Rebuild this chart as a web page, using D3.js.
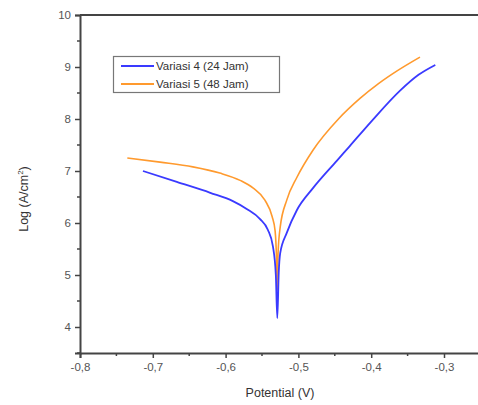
<!DOCTYPE html>
<html>
<head>
<meta charset="utf-8">
<script src="https://cdn.jsdelivr.net/npm/d3@7"></script>
<style>
  body { margin: 0; background: #fff; }
  text { font-family: "Liberation Sans", Arial, sans-serif; }
</style>
</head>
<body>
<svg id="chart" width="478" height="405"></svg>
<script>
// Variasi 4 (24 Jam): [potential V, log current]
var variasi4 = [
  [-0.7135, 7.0], [-0.667, 6.79], [-0.621, 6.58], [-0.590, 6.42],
  [-0.571, 6.27], [-0.553, 6.08], [-0.542, 5.87], [-0.535, 5.55],
  [-0.531, 5.0], [-0.529, 4.17], [-0.527, 5.05], [-0.525, 5.42],
  [-0.516, 5.81], [-0.502, 6.25], [-0.480, 6.67], [-0.447, 7.2],
  [-0.430, 7.47], [-0.400, 7.95], [-0.360, 8.55], [-0.335, 8.85],
  [-0.312, 9.04]
];
// Variasi 5 (48 Jam)
var variasi5 = [
  [-0.735, 7.25], [-0.690, 7.17], [-0.645, 7.08], [-0.608, 6.96],
  [-0.580, 6.82], [-0.562, 6.67], [-0.546, 6.44], [-0.536, 6.12],
  [-0.532, 5.85], [-0.530, 5.3], [-0.529, 4.71], [-0.528, 5.4],
  [-0.525, 5.92], [-0.516, 6.44], [-0.502, 6.88], [-0.480, 7.40],
  [-0.445, 8.0], [-0.415, 8.4], [-0.390, 8.68], [-0.365, 8.92],
  [-0.333, 9.19]
];
var seriesNames = ["Variasi 4 (24 Jam)", "Variasi 5 (48 Jam)"];
var seriesColors = ["#3a3aff", "#ff9a2e"];
var xTicks = [-0.8, -0.7, -0.6, -0.5, -0.4, -0.3];
var yTicks = [4, 5, 6, 7, 8, 9, 10];

var svg = d3.select("#chart");
var axisColor = "#444";

var x = d3.scaleLinear().domain([-0.8, -0.2]).range([80, 80 + 0.6 * 728]);
var y = d3.scaleLinear().domain([3.5, 10]).range([353, 15]);

var fmt = function(v) { return d3.format(".1f")(v).replace(".", ",").replace("−", "-"); };

// minor ticks
svg.append("g").selectAll("line")
  .data(d3.range(-0.75, -0.25, 0.1))
  .enter().append("line")
  .attr("x1", d => x(d)).attr("x2", d => x(d))
  .attr("y1", 353).attr("y2", 356)
  .attr("stroke", axisColor).attr("stroke-width", 1.5);
svg.append("g").selectAll("line")
  .data(d3.range(3.5, 10, 1))
  .enter().append("line")
  .attr("x1", 77).attr("x2", 80)
  .attr("y1", d => y(d)).attr("y2", d => y(d))
  .attr("stroke", axisColor).attr("stroke-width", 1.5);

var xAxis = svg.append("g")
  .attr("transform", "translate(0,353)")
  .call(d3.axisBottom(x).tickValues(xTicks).tickFormat(fmt).tickSizeOuter(0).tickSize(5).tickPadding(5));
var yAxis = svg.append("g")
  .attr("transform", "translate(80,0)")
  .call(d3.axisLeft(y).tickValues(yTicks).tickFormat(d3.format("d")).tickSizeOuter(0).tickSize(5).tickPadding(4));

[xAxis, yAxis].forEach(function(g) {
  g.select(".domain").attr("stroke", axisColor).attr("stroke-width", 2);
  g.selectAll(".tick line").attr("stroke", axisColor).attr("stroke-width", 1.5);
  g.selectAll(".tick text").attr("fill", "#555").attr("font-size", 11.5)
    .style("font-family", "'Liberation Sans', Arial, sans-serif");
});

// top frame line
svg.append("line")
  .attr("x1", 80).attr("x2", 478).attr("y1", 15).attr("y2", 15)
  .attr("stroke", axisColor).attr("stroke-width", 2);

var line = d3.line()
  .x(d => x(d[0])).y(d => y(d[1]))
  .curve(d3.curveMonotoneX);

svg.append("path").datum(variasi5)
  .attr("d", line).attr("fill", "none")
  .attr("stroke", seriesColors[1]).attr("stroke-width", 1.6);
svg.append("path").datum(variasi4)
  .attr("d", line).attr("fill", "none")
  .attr("stroke", seriesColors[0]).attr("stroke-width", 1.8);

// legend
var leg = svg.append("g");
leg.append("rect")
  .attr("x", 113.5).attr("y", 56.5).attr("width", 166).attr("height", 36)
  .attr("fill", "#fff").attr("stroke", "#777").attr("stroke-width", 1.2);
seriesNames.forEach(function(name, i) {
  var yy = 66 + i * 18;
  leg.append("line")
    .attr("x1", 121).attr("x2", 154).attr("y1", yy).attr("y2", yy)
    .attr("stroke", seriesColors[i]).attr("stroke-width", 2);
  leg.append("text")
    .attr("x", 156).attr("y", yy + 4)
    .attr("font-size", 11.5).attr("fill", "#333")
    .text(name);
});

// axis titles
svg.append("text")
  .attr("x", 280).attr("y", 397)
  .attr("text-anchor", "middle").attr("font-size", 12.5).attr("fill", "#333")
  .text("Potential (V)");

var yl = svg.append("text")
  .attr("transform", "translate(28,199) rotate(-90)")
  .attr("text-anchor", "middle").attr("font-size", 12.5).attr("fill", "#333");
yl.append("tspan").text("Log (A/cm");
yl.append("tspan").attr("font-size", 8).attr("dy", -5).text("2");
yl.append("tspan").attr("dy", 5).text(")");
</script>
</body>
</html>
